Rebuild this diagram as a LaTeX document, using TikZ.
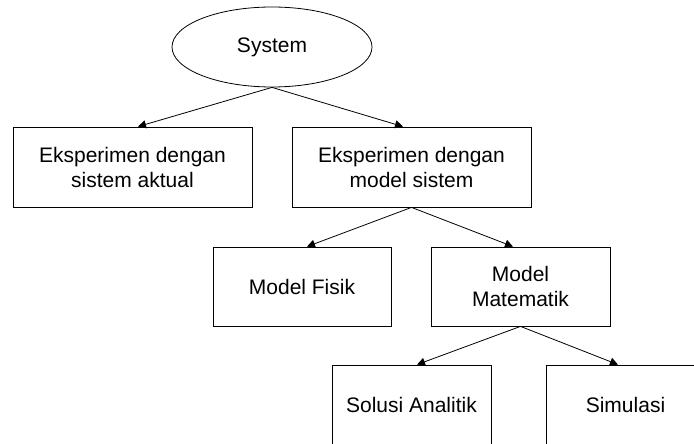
\documentclass[tikz,border=0pt]{standalone}
\usepackage{fontspec}
\setmainfont{Liberation Sans}
\usetikzlibrary{shapes,arrows,arrows.meta,positioning}

\begin{document}
\begin{tikzpicture}[
          x=1pt, y=1pt,
          box/.style={rectangle, draw, line width=0.8pt, align=center, inner sep=0pt, minimum height=80pt, font=\fontsize{21}{25}\selectfont},
          root/.style={ellipse, draw, line width=0.8pt, minimum width=200pt, minimum height=80pt, inner sep=0pt, font=\fontsize{21}{25}\selectfont},
          arrow/.style={-{Triangle[length=8pt,width=8pt]}, line width=0.8pt}
        ]
          \useasboundingbox (0,0) rectangle (694,444);
          \clip (0,0) rectangle (694,444);

          \node[root] (system) at (272,397) {System};

          \node[box, minimum width=239pt] (aktual) at (132.5,277) {Eksperimen dengan\\sistem aktual};
          \node[box, minimum width=239pt] (modelsis) at (411.5,277) {Eksperimen dengan\\model sistem};

          \node[box, minimum width=178pt, minimum height=79pt] (fisik) at (302,157.5) {Model Fisik};
          \node[box, minimum width=179pt, minimum height=79pt] (matematik) at (520.5,157.5) {Model\\Matematik};

          \node[box, minimum width=159pt] (analitik) at (411.5,39) {Solusi Analitik};
          \node[box, minimum width=159pt] (simulasi) at (625.5,39) {Simulasi};

          % level 1
          \draw[arrow] (system.south) -- ([xshift=5.5pt]aktual.north);
          \draw[arrow] (system.south) -- ([xshift=-8.5pt]modelsis.north);

          % level 2
          \draw[arrow] (modelsis.south) -- ([xshift=5pt]fisik.north);
          \draw[arrow] (modelsis.south) -- ([xshift=-7.5pt]matematik.north);

          % level 3
          \draw[arrow] (matematik.south) -- ([xshift=5.5pt]analitik.north);
          \draw[arrow] (matematik.south) -- ([xshift=-7.5pt]simulasi.north);

        \end{tikzpicture}
\end{document}
